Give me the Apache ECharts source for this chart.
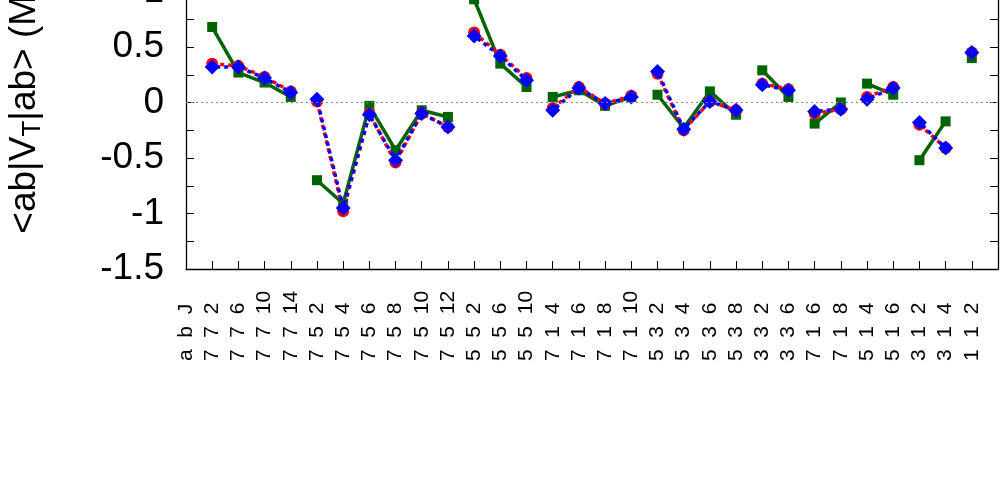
<!DOCTYPE html>
<html>
<head>
<meta charset="utf-8">
<script src="https://cdn.jsdelivr.net/npm/echarts@6/dist/echarts.min.js"></script>
<style>
html, body { margin: 0; padding: 0; background: #fff; overflow: hidden; }
/* the plot top is cut off in the picture, so the chart box starts above the page */
#chart { position: absolute; left: 0; top: -64px; width: 1000px; height: 550px; }
</style>
</head>
<body>
<div id="chart"></div>
<script>
// x tick labels, index 0 is the "a b J" header on the left edge
var labels = ['a  b  J', '7  7  2', '7  7  6', '7  7  10', '7  7  14', '7  5  2', '7  5  4', '7  5  6', '7  5  8',
  '7  5  10', '7  5  12', '5  5  2', '5  5  6', '5  5  10', '7  1  4', '7  1  6', '7  1  8', '7  1  10',
  '5  3  2', '5  3  4', '5  3  6', '5  3  8', '3  3  2', '3  3  6', '7  1  6', '7  1  8', '5  1  4', '5  1  6',
  '3  1  2', '3  1  4', '1  1  2'];
// line pieces: points with the same number are joined
var block = [1, 1, 1, 1, 2, 2, 2, 2, 2, 2, 3, 3, 3, 4, 4, 4, 4, 5, 5, 5, 5, 6, 6, 7, 7, 8, 8, 9, 9, 10];
var green = [0.68, 0.27, 0.18, 0.05, -0.70, -0.91, -0.03, -0.43, -0.07, -0.13, 0.93, 0.35, 0.14,
  0.05, 0.11, -0.03, 0.05, 0.07, -0.23, 0.10, -0.11, 0.29, 0.05, -0.19, 0.00, 0.17, 0.07, -0.52, -0.17, 0.40];
var red = [0.35, 0.33, 0.23, 0.10, 0.01, -0.98, -0.10, -0.54, -0.10, -0.22, 0.63, 0.43, 0.22,
  -0.05, 0.14, -0.01, 0.06, 0.26, -0.25, 0.01, -0.07, 0.17, 0.12, -0.10, -0.06, 0.05, 0.14, -0.20, -0.41, 0.45];
var blue = [0.32, 0.32, 0.22, 0.09, 0.03, -0.95, -0.11, -0.52, -0.10, -0.22, 0.60, 0.42, 0.20,
  -0.07, 0.13, -0.01, 0.05, 0.28, -0.24, 0.01, -0.07, 0.16, 0.11, -0.08, -0.06, 0.03, 0.13, -0.18, -0.41, 0.45];

var font = 'Liberation Sans, Arial, sans-serif';

function pts(vals) {
  var out = [];
  for (var i = 0; i < vals.length; i++) {
    if (i > 0 && block[i] !== block[i - 1]) out.push([i + 0.5, null]); // break the line
    out.push([i + 1, vals[i]]);
  }
  return out;
}

var chart = echarts.init(document.getElementById('chart'));

var yCommon = {
  type: 'value', min: -1.5, max: 1.5, interval: 0.25,
  axisLine: { show: true, onZero: false, lineStyle: { color: '#000', width: 1.3 } },
  axisTick: { show: true, inside: true, length: 8, lineStyle: { color: '#000', width: 1 } },
  splitLine: { show: false }
};

var option = {
  animation: false,
  backgroundColor: '#fff',
  grid: { left: 186, right: 2, top: 0, bottom: 217, outerBoundsMode: 'none' },
  xAxis: {
    type: 'value', min: 0, max: 31, interval: 1,
    axisLine: { show: true, onZero: false, lineStyle: { color: '#000', width: 1.3 } },
    axisTick: { show: true, inside: true, length: 8, lineStyle: { color: '#000', width: 1 } },
    splitLine: { show: false },
    axisLabel: {
      rotate: 90, align: 'left', margin: 92, fontSize: 21, color: '#000', fontFamily: font,
      formatter: function (v) { return labels[v] || ''; }
    }
  },
  yAxis: [
    Object.assign({}, yCommon, {
      position: 'left',
      name: '<ab|V{s|T}|ab> (MeV)',
      nameLocation: 'middle',
      nameGap: 140,
      nameTextStyle: {
        fontSize: 37, color: '#000', fontFamily: font, padding: [0, 0, 0, 34],
        rich: { s: { fontSize: 26, color: '#000', fontFamily: font, padding: [16, 0, 0, 0] } }
      },
      axisLabel: {
        margin: 22, fontSize: 37, color: '#000', fontFamily: font,
        formatter: function (v) {
          return Math.abs(v * 2 - Math.round(v * 2)) < 1e-6 ? String(v) : '';
        }
      }
    }),
    Object.assign({}, yCommon, { position: 'right', axisLabel: { show: false } })
  ],
  series: [
    {
      type: 'line', data: pts(green), yAxisIndex: 0,
      symbol: 'rect', symbolSize: 10,
      itemStyle: { color: '#006400' },
      lineStyle: { color: '#006400', width: 3.5 },
      markLine: {
        silent: true, symbol: ['none', 'none'], label: { show: false },
        lineStyle: { color: '#888', type: [2, 3], width: 1 },
        data: [{ yAxis: 0 }]
      },
      z: 2
    },
    {
      type: 'line', data: pts(red),
      symbol: 'circle', symbolSize: 12,
      itemStyle: { color: '#ff0000' },
      lineStyle: { color: '#ff0000', width: 3.5, type: [4, 4] },
      z: 3
    },
    {
      type: 'line', data: pts(blue),
      symbol: 'diamond', symbolSize: 15,
      itemStyle: { color: '#0000ff' },
      lineStyle: { color: '#0000ff', width: 3.5, type: [4, 4], dashOffset: 4 },
      z: 4
    }
  ]
};

chart.setOption(option);
</script>
</body>
</html>
